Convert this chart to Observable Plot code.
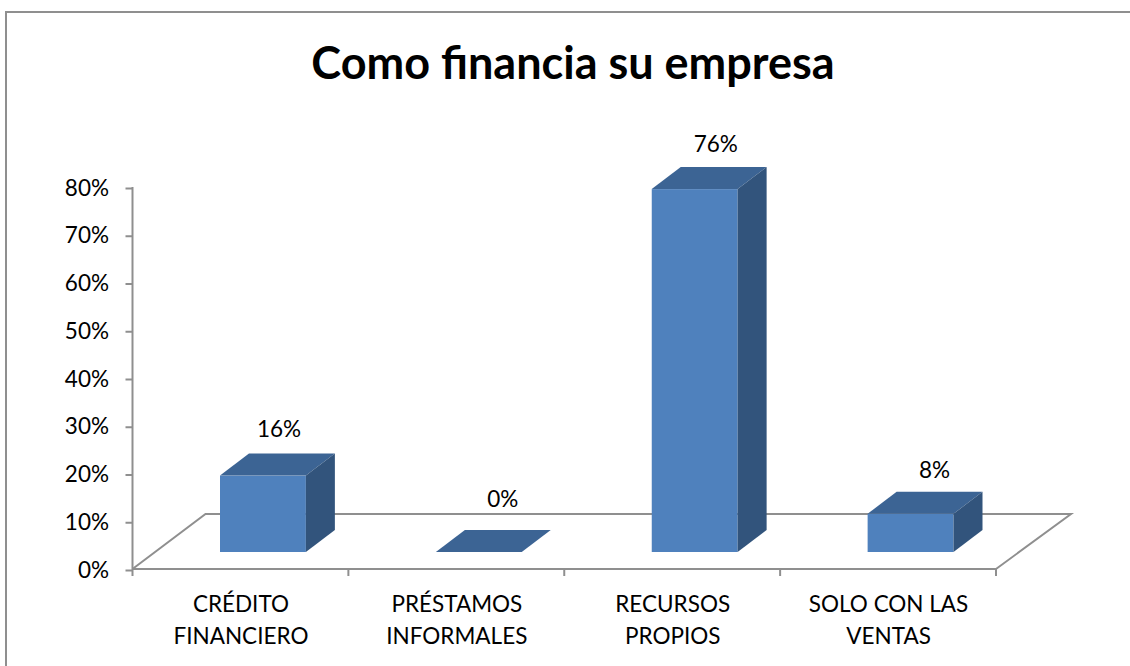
<!DOCTYPE html>
<html lang="es">
<head>
<meta charset="utf-8">
<title>Como financia su empresa</title>
<script src="https://cdn.jsdelivr.net/npm/d3@7"></script>
<script src="https://cdn.jsdelivr.net/npm/@observablehq/plot@0.6"></script>
<style>
  html, body { margin: 0; padding: 0; background: #fff; width: 1130px; height: 666px; overflow: hidden; }
  #page { position: relative; width: 1130px; height: 666px; overflow: hidden; font-family: Lato, "Open Sans", sans-serif; }
  #border { position: absolute; left: 5px; top: 11px; width: 1200px; height: 800px; border: 2px solid #8f8f8f; box-sizing: border-box; }
  #title { position: absolute; left: 6px; width: 1134px; top: 0; height: 120px; line-height: 125px; text-align: center; font-size: 45px; font-weight: 700; color: #000; }
  #chart { position: absolute; left: 0; top: 120px; }
</style>
</head>
<body>
<div id="page">
  <div id="border"></div>
  <div id="title">Como financia su empresa</div>
  <div id="chart"></div>
</div>
<script>
const categories = ["CRÉDITO\nFINANCIERO", "PRÉSTAMOS\nINFORMALES", "RECURSOS\nPROPIOS", "SOLO CON LAS\nVENTAS"];
const values = [16, 0, 76, 8];
const yTicks = [0, 10, 20, 30, 40, 50, 60, 70, 80];

const rows = categories.map((category, i) => ({category, value: values[i]}));

const COLOR_FRONT = "#4f81bd", COLOR_TOP = "#3c6494", COLOR_SIDE = "#32547c", COLOR_AXIS = "#8f8f8f";
const DEPTH_X = 29, DEPTH_Y = 22;            // bar depth
const FLOOR_X = 73, FLOOR_Y = 55;            // floor depth
const BAR_LIFT = 17;                         // bars stand on the floor, above the front edge
const SVG = "http://www.w3.org/2000/svg";

function el(name, attrs) {
  const n = document.createElementNS(SVG, name);
  for (const k in attrs) n.setAttribute(k, attrs[k]);
  return n;
}

// Floor, y-axis line and x boundary ticks, all placed from the plot's scales
function floorMark(index, {y}, channels, {width, height, marginLeft, marginRight}) {
  const g = el("g", {fill: "none", stroke: COLOR_AXIS});
  const x0 = marginLeft, x1 = width - marginRight, y0 = y(0);
  g.append(el("polyline", {"stroke-width": 2, points: `${x0},${y0} ${x0 + FLOOR_X},${y0 - FLOOR_Y} ${x1 + FLOOR_X + 2},${y0 - FLOOR_Y} ${x1},${y0}`}));
  g.append(el("line", {"stroke-width": 2, x1: x0, x2: x1, y1: y0, y2: y0}));
  g.append(el("line", {"stroke-width": 2, x1: x0, x2: x0, y1: y(yTicks[yTicks.length - 1]), y2: y0}));
  const step = (x1 - x0) / categories.length;
  d3.range(categories.length + 1).forEach(i => {
    g.append(el("line", {"stroke-width": 2, x1: x0 + i * step, x2: x0 + i * step, y1: y0, y2: y0 + 7}));
  });
  return g;
}

// Adds top and side faces to every bar drawn by barY
function box3d(index, scales, channels, dimensions, context, next) {
  const g = next(index, scales, channels, dimensions, context);
  for (const rect of Array.from(g.querySelectorAll("rect"))) {
    const x = +rect.getAttribute("x"), w = +rect.getAttribute("width");
    const t = +rect.getAttribute("y"), h = +rect.getAttribute("height");
    const top = el("polygon", {fill: COLOR_TOP, points: `${x},${t} ${x + DEPTH_X},${t - DEPTH_Y} ${x + w + DEPTH_X},${t - DEPTH_Y} ${x + w},${t}`});
    g.append(top);
    if (h > 0) {
      g.append(el("polygon", {fill: COLOR_SIDE, points: `${x + w},${t} ${x + w + DEPTH_X},${t - DEPTH_Y} ${x + w + DEPTH_X},${t + h - DEPTH_Y} ${x + w},${t + h}`}));
    }
  }
  return g;
}

const labelOffset = [[38, -63], [46, -70], [43, -62], [46, -61]];

const plot = Plot.plot({
  width: 1130,
  height: 546,
  marginLeft: 132.5,
  marginRight: 134,
  marginTop: 67,
  marginBottom: 97,
  style: {background: "transparent", fontFamily: "Lato, 'Open Sans', sans-serif"},
  x: {type: "band", domain: categories, padding: 0, round: false, label: null},
  y: {domain: [0, 80], label: null},
  marks: [
    floorMark,
    Plot.axisY({ticks: yTicks, tickFormat: d => d + "%", tickSize: 7, tickPadding: 17, fontSize: 22.5, color: "#000", stroke: COLOR_AXIS, strokeWidth: 2, label: null, dy: 1, marginLeft: 132.5}),
    Plot.axisX({tickSize: 0, tickPadding: 20, fontSize: 22.5, lineHeight: 1.42, color: "#000", label: null, lineAnchor: "top"}),
    Plot.barY(rows, {x: "category", y: "value", fill: COLOR_FRONT, insetLeft: 87.5, insetRight: 42.5, dy: -BAR_LIFT, render: box3d}),
    ...rows.map((row, i) => Plot.text([row], {
      x: "category", y: "value", text: d => d.value + "%", fontSize: 22.5, fill: "#000",
      dx: labelOffset[i][0], dy: labelOffset[i][1]
    }))
  ]
});
document.getElementById("chart").append(plot);
</script>
</body>
</html>
